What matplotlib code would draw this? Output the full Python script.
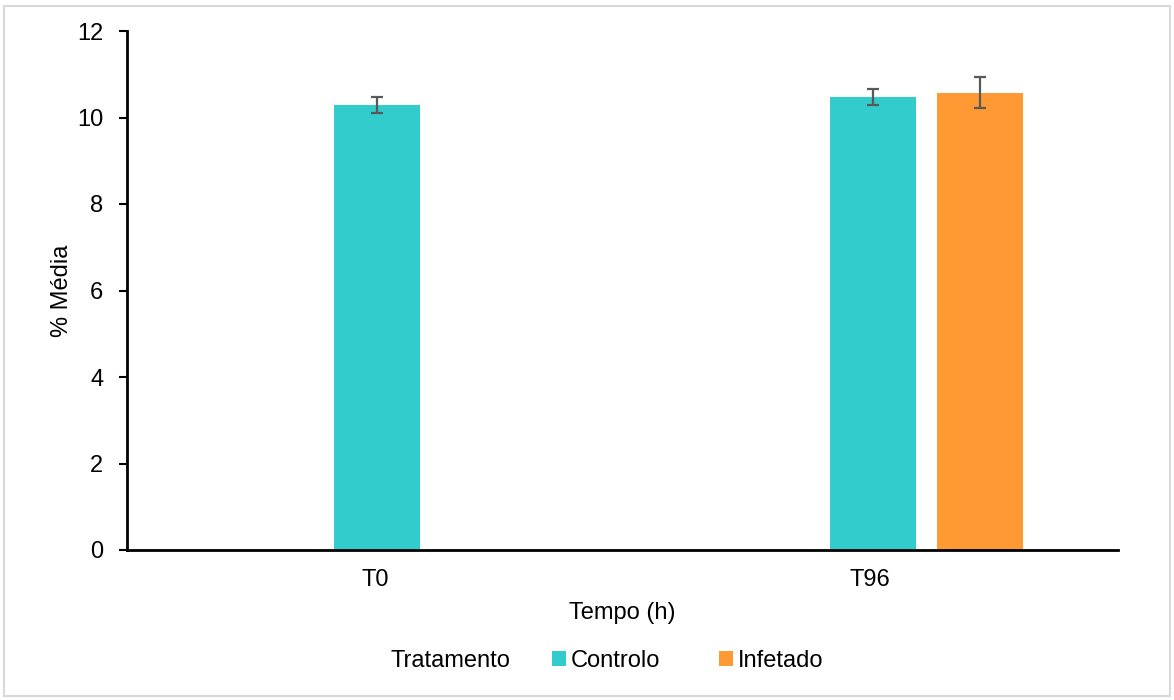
import matplotlib
matplotlib.use("Agg")
import matplotlib.pyplot as plt
from matplotlib.patches import Rectangle
import numpy as np

plt.rcParams['font.family'] = ['Liberation Sans', 'DejaVu Sans']

categories = ["T0", "T96"]
controlo_vals = [10.29, 10.47]
controlo_err = [0.18, 0.19]
infetado_vals = [np.nan, 10.57]
infetado_err = [np.nan, 0.36]

teal = "#33CCCC"
orange = "#FF9933"
errc = "#595959"
fs = 17

fig = plt.figure(figsize=(11.74, 7.0), dpi=100)
fig.patches.append(Rectangle((0.003, 0.006), 0.994, 0.986, transform=fig.transFigure,
                             fill=False, edgecolor="#d9d9d9", linewidth=1.5))
ax = fig.add_axes([127/1174, 1 - 550/700, (1118-127)/1174, (550-31)/700])

x = np.arange(len(categories))
w = 0.174
off = 0.222
ax.bar(x + 0.005, controlo_vals, width=w, color=teal, label="Controlo", zorder=2)
ax.errorbar(x + 0.005, controlo_vals, yerr=controlo_err, fmt='none', ecolor=errc,
            elinewidth=1.6, capsize=4, capthick=1.6, zorder=3)
ax.bar(x + off, infetado_vals, width=w, color=orange, label="Infetado", zorder=2)
ax.errorbar(x + off, infetado_vals, yerr=infetado_err, fmt='none', ecolor=errc,
            elinewidth=1.6, capsize=4, capthick=1.6, zorder=3)

ax.set_xlim(-0.5, 1.5)
ax.set_ylim(0, 12)
ax.set_yticks([0, 2, 4, 6, 8, 10, 12])
ax.set_xticks(x)
ax.set_xticklabels(categories)
ax.tick_params(axis='x', length=0, labelsize=fs, pad=14)
ax.tick_params(axis='y', length=6, width=1.5, labelsize=fs, direction='out', pad=11)
for s in ['top', 'right']:
    ax.spines[s].set_visible(False)
ax.spines['left'].set_linewidth(2)
ax.spines['bottom'].set_linewidth(2)

ax.set_xlabel("Tempo (h)", fontsize=fs)
ax.set_ylabel("% Média", fontsize=fs)
ax.xaxis.set_label_coords(0.5, (550 - 613) / 519)
ax.xaxis.label.set_va('center')
ax.yaxis.set_label_coords((62 - 127) / 991, 0.5)
ax.yaxis.label.set_va('center')

handles, labels = ax.get_legend_handles_labels()
fig.text(450/1174, 1 - 661/700, "Tratamento", fontsize=fs, ha='center', va='center')
leg = fig.legend(handles, labels, loc='center left', bbox_to_anchor=(552/1174, 1 - 661/700),
                 ncol=2, frameon=False, fontsize=fs, handlelength=0.6, handleheight=0.6,
                 handletextpad=0.2, columnspacing=2.5, borderpad=0, borderaxespad=0)

fig.savefig("out.png", dpi=100)
